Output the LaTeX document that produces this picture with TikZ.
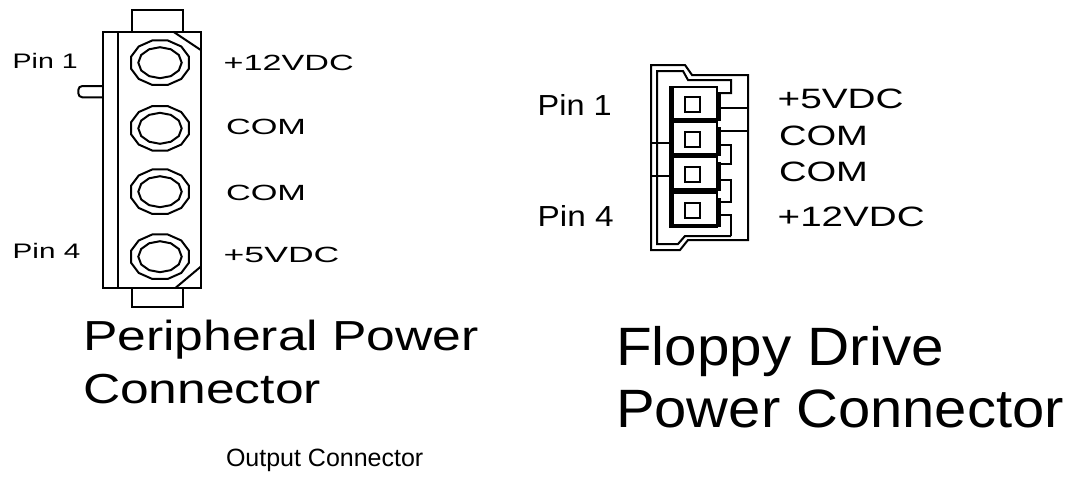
\documentclass[tikz,border=0pt]{standalone}
\usepackage{fontspec}
\setmainfont{Liberation Sans}
\usepackage{tikz}

\newcommand{\fsz}[1]{\fontsize{#1}{#1}\selectfont}
\newcommand{\stretchto}[2]{\resizebox{#1}{\height}{#2}}

\begin{document}
\begin{tikzpicture} [x=1pt, y=-1pt, line width=2pt,
    lbl/.style={inner sep=0pt, anchor=base west},
    wall/.style={line width=4pt}]
  \useasboundingbox (0,0) rectangle (1076,499);
  % peripheral connector body
  \draw (103,31.7) rectangle (200.7,288.3);
  \draw (117.5,31.7) -- (117.5,288.3);
  \draw (131.7,31.7) |- (183.3,10) -- (183.3,31.7);
  \draw (131.7,288.3) |- (183.3,306.7) -- (183.3,288.3);
  \draw (173.3,31.7) -- (200.7,50);
  \draw (200.7,266.7) -- (175,288.3);
  \draw [rounded corners=4pt] (103,86) -| (78.3,97.3) -- (103,97.3);
  \foreach \y in {62.7,128.3,191.7,256.7} {
    \draw (160,\y) +(15:30 and 23)
      \foreach \a in {45,75,...,375} { -- +(\a:30 and 23) } -- cycle;
    \draw (160,\y) +(0:21.7 and 15.5)
      \foreach \a in {30,60,...,360} { -- +(\a:21.7 and 15.5) } -- cycle;
  }
  \path  (11.7,68.3)   node[lbl](lpin1) {\fsz{21}\stretchto{65pt}{Pin 1}}
         (11.7,258.3)  node[lbl](lpin4) {\fsz{21}\stretchto{67.6pt}{Pin 4}}
         (222.7,70)    node[lbl](lv12) {\fsz{22}\stretchto{130pt}{+12VDC}}
         (225,134)     node[lbl](lcom1) {\fsz{22}\stretchto{80pt}{COM}}
         (225,200)     node[lbl](lcom2) {\fsz{22}\stretchto{80pt}{COM}}
         (222.7,262.7) node[lbl](lv5) {\fsz{22}\stretchto{115.7pt}{+5VDC}}
         (82,350)      node[lbl](ltitle1) {\fsz{42}\stretchto{396pt}{Peripheral Power}}
         (82,403)      node[lbl](ltitle2) {\fsz{42}\stretchto{238pt}{Connector}};
  % floppy connector shell
  \draw (651,65) -- (685,65) -- (692,75) -- (748,75) -- (748,240)
        -- (688,240) -- (680,250) -- (651,250) -- cycle;
  \draw (720,93) -- (731,93) -- (731,80) -- (688,80) -- (683,71) -- (657,71)
        -- (657,244) -- (678,244) -- (685,236) -- (731,236);
  \draw (651,143) -- (670,143);
  \draw (651,176) -- (670,176);
  \draw (720,108) -- (748,108);
  \draw (719,131) -- (748,131);
  \draw (720,145) -| (731,164) -- (720,164);
  \draw (720,180) -| (731,202) -- (720,202);
  \draw (720,215) -| (731,236);
  \foreach \y in {104,139,174,210} {
    \draw (670,\y-17) rectangle (717,\y+17);
    \draw (685,\y-7.5) rectangle (700,\y+7.5);
    \draw [wall] (672,\y-17) -- (672,\y+17);
    \draw [wall] (670,\y+16) -- (717,\y+16);
    \draw [wall] (719,\y-12) -- (719,\y+17);
  }
  \path  (536.7,115)   node[lbl](fpin1) {\fsz{29}\stretchto{74pt}{Pin 1}}
         (536.7,226.7) node[lbl](fpin4) {\fsz{29}\stretchto{76pt}{Pin 4}}
         (776.7,108.3) node[lbl](fv5) {\fsz{28}\stretchto{126pt}{+5VDC}}
         (778,145)     node[lbl](fcom1) {\fsz{28}\stretchto{89pt}{COM}}
         (778,181.7)   node[lbl](fcom2) {\fsz{28}\stretchto{89pt}{COM}}
         (776.7,226.7) node[lbl](fv12) {\fsz{28}\stretchto{147pt}{+12VDC}}
         (615,365)     node[lbl](ftitle1) {\fsz{54}\stretchto{328pt}{Floppy Drive}}
         (615,427)     node[lbl](ftitle2) {\fsz{54}\stretchto{448pt}{Power Connector}}
         (225,466)     node[lbl](caption) {\fsz{25}Output Connector};
\end{tikzpicture}
\end{document}
